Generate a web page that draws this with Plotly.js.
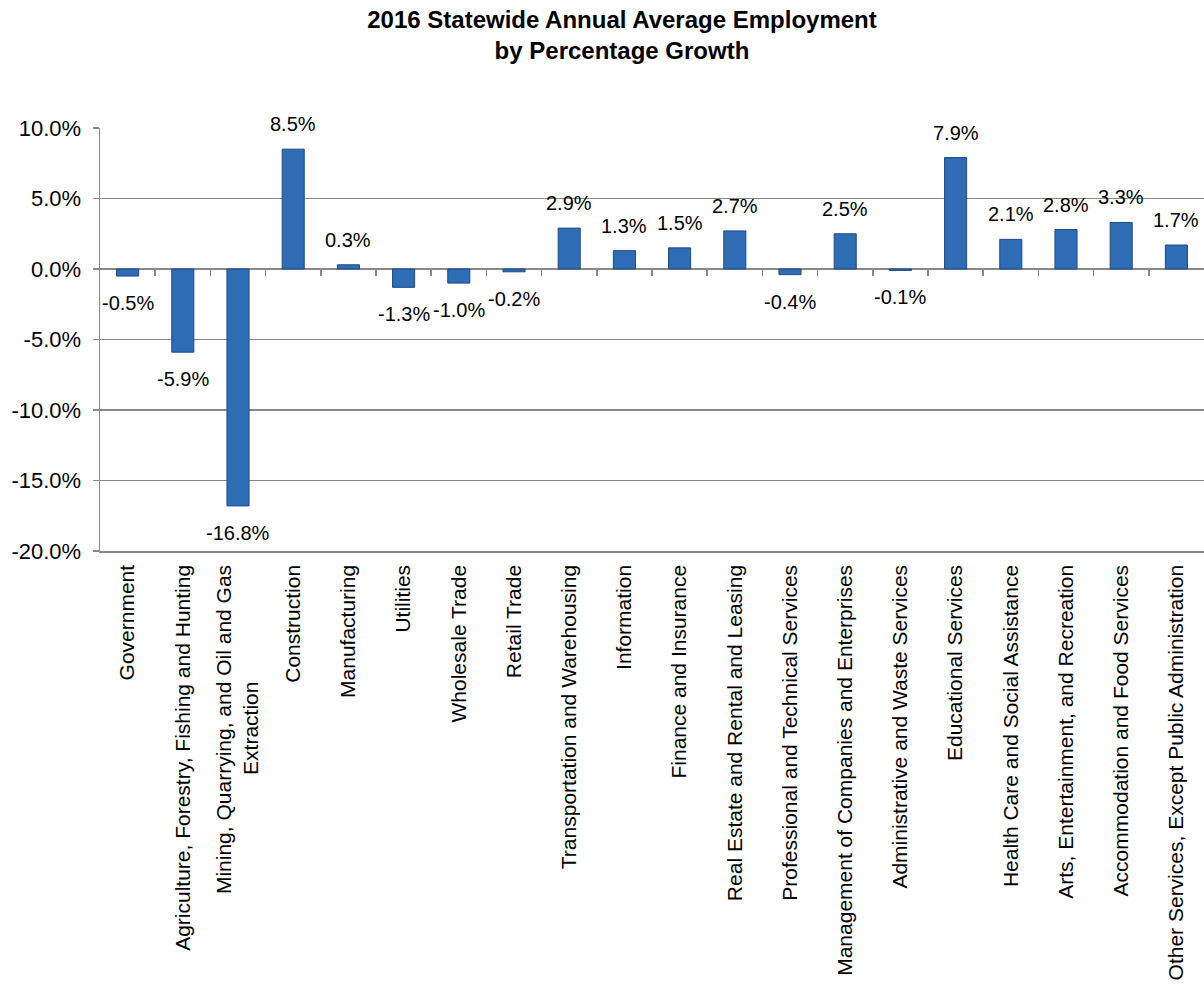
<!DOCTYPE html>
<html>
<head>
<meta charset="utf-8">
<script src="https://cdn.plot.ly/plotly-3.0.1.min.js"></script>
<style>
html,body{margin:0;padding:0;background:#fff;overflow:hidden;}
#chart{width:1204px;height:986px;}
</style>
</head>
<body>
<div id="chart"></div>
<script>
const categories = [
  "Government",
  "Agriculture, Forestry, Fishing and Hunting",
  "Mining, Quarrying, and Oil and Gas<br>Extraction\u00A0\u00A0\u00A0\u00A0\u00A0\u00A0\u00A0\u00A0\u00A0\u00A0\u00A0\u00A0\u00A0\u00A0\u00A0\u00A0\u00A0\u00A0\u00A0\u00A0",
  "Construction",
  "Manufacturing",
  "Utilities",
  "Wholesale Trade",
  "Retail Trade",
  "Transportation and Warehousing",
  "Information",
  "Finance and Insurance",
  "Real Estate and Rental and Leasing",
  "Professional and Technical Services",
  "Management of Companies and Enterprises",
  "Administrative and Waste Services",
  "Educational Services",
  "Health Care and Social Assistance",
  "Arts, Entertainment, and Recreation",
  "Accommodation and Food Services",
  "Other Services, Except Public Administration"
];
const growthPct = [-0.5, -5.9, -16.8, 8.5, 0.3, -1.3, -1.0, -0.2, 2.9, 1.3, 1.5, 2.7, -0.4, 2.5, -0.1, 7.9, 2.1, 2.8, 3.3, 1.7];
const yTickVals = [-20, -15, -10, -5, 0, 5, 10];
const yTickText = ["-20.0%", "-15.0%", "-10.0%", "-5.0%", "0.0%", "5.0%", "10.0%"];

const labels = growthPct.map(v => v.toFixed(1) + '%');
const boundaryTicks = categories.slice(1).map((_, i) => i + 0.5);
const FONT = 'Liberation Sans, Arial, sans-serif';
const GRID = '#888888';

const traces = [
  {
    type: 'bar',
    x: categories,
    y: growthPct,
    marker: {color: '#2f6cb6', line: {color: '#1d4a86', width: 1}},
    width: 0.4,
    hoverinfo: 'x+y'
  },
  {
    type: 'scatter',
    x: [0],
    y: [0],
    xaxis: 'x2',
    yaxis: 'y',
    mode: 'none',
    hoverinfo: 'skip',
    showlegend: false
  }
];

const annotations = categories.map((c, i) => ({
  x: c,
  y: growthPct[i],
  xref: 'x',
  yref: 'y',
  text: labels[i],
  showarrow: false,
  xanchor: 'center',
  yanchor: growthPct[i] >= 0 ? 'bottom' : 'top',
  yshift: growthPct[i] >= 0 ? 12 : -14,
  font: {family: FONT, size: 20, color: '#000'}
}));

const layout = {
  width: 1204,
  height: 986,
  paper_bgcolor: '#fff',
  plot_bgcolor: '#fff',
  showlegend: false,
  margin: {l: 100, r: 0, t: 128, b: 435, pad: 0},
  font: {family: FONT, color: '#000'},
  title: {
    text: '<b>2016 Statewide Annual Average Employment<br>by Percentage Growth</b>',
    font: {family: FONT, size: 24, color: '#000'},
    x: 0.5166, xref: 'container', xanchor: 'center',
    y: 0.972, yref: 'container', yanchor: 'top'
  },
  annotations: annotations,
  xaxis: {
    type: 'category',
    range: [-0.5, 19.5],
    tickangle: -90,
    tickfont: {family: FONT, size: 21, color: '#000'},
    ticks: '',
    ticklabelstandoff: 4,
    showline: true,
    linecolor: GRID,
    linewidth: 1.5,
    showgrid: false,
    automargin: false,
    fixedrange: true
  },
  xaxis2: {
    overlaying: 'x',
    anchor: 'free',
    position: 20 / 30,
    side: 'bottom',
    type: 'linear',
    range: [-0.5, 19.5],
    tickmode: 'array',
    tickvals: boundaryTicks,
    ticks: 'outside',
    ticklen: 6,
    tickwidth: 1.5,
    tickcolor: GRID,
    showticklabels: false,
    showgrid: false,
    showline: false,
    zeroline: false,
    fixedrange: true
  },
  yaxis: {
    range: [-20, 10],
    tickmode: 'array',
    tickvals: yTickVals,
    ticktext: yTickText,
    tickfont: {family: FONT, size: 22, color: '#000'},
    ticks: 'outside',
    ticklen: 6,
    tickwidth: 1.5,
    tickcolor: GRID,
    ticklabelstandoff: 7,
    showline: true,
    linecolor: GRID,
    linewidth: 1.5,
    showgrid: true,
    gridcolor: GRID,
    gridwidth: 1.5,
    zeroline: true,
    zerolinecolor: GRID,
    zerolinewidth: 1.5,
    automargin: false,
    fixedrange: true
  },
  bargap: 0.6
};

Plotly.newPlot('chart', traces, layout, {displayModeBar: false, staticPlot: true});
</script>
</body>
</html>
